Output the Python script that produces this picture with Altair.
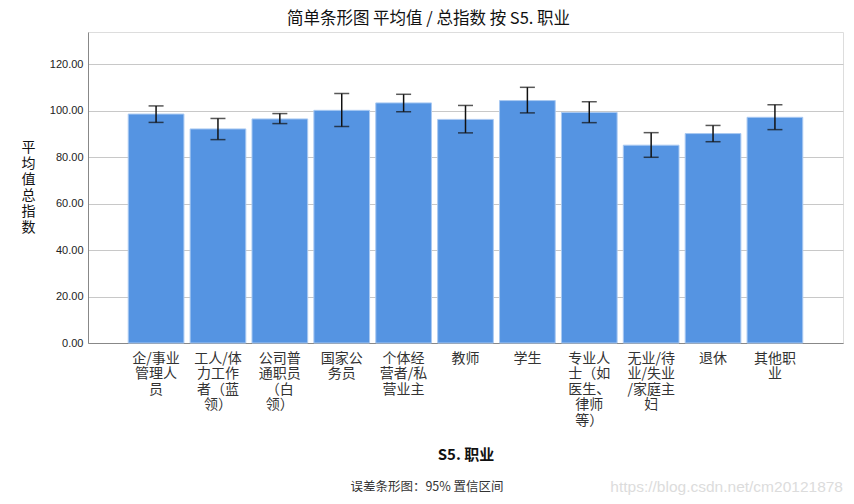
import altair as alt
import pandas as pd

categories = [
    "企/事业\n管理人\n员",
    "工人/体\n力工作\n者（蓝\n领）",
    "公司普\n通职员\n（白\n领）",
    "国家公\n务员",
    "个体经\n营者/私\n营业主",
    "教师",
    "学生",
    "专业人\n士（如\n医生、\n律师\n等）",
    "无业/待\n业/失业\n/家庭主\n妇",
    "退休",
    "其他职\n业",
]
means = [98.5, 92.1, 96.4, 100.1, 103.3, 96.2, 104.3, 99.2, 85.1, 90.1, 97.1]
ci_low = [94.9, 87.5, 94.4, 93.1, 99.5, 90.4, 99.0, 94.8, 79.9, 86.6, 91.8]
ci_high = [102.0, 96.6, 98.7, 107.3, 107.0, 102.2, 110.0, 103.8, 90.5, 93.6, 102.5]
y_ticks = [0, 20, 40, 60, 80, 100, 120]

df = pd.DataFrame({"cat": categories, "mean": means, "lo": ci_low, "hi": ci_high})

FONT = "Noto Sans CJK SC"

xenc = alt.X(
    "cat:N",
    sort=categories,
    scale=alt.Scale(paddingInner=0.1, paddingOuter=0.65),
    axis=alt.Axis(
        title="S5. 职业",
        titleFont=FONT,
        titleFontSize=15,
        titleFontWeight="bold",
        titleColor="#111",
        titlePadding=20,
        labelExpr="split(datum.label, '\\n')",
        labelAngle=0,
        labelFont=FONT,
        labelFontSize=14,
        labelLineHeight=15.5,
        labelColor="#333",
        labelPadding=8,
        labelBaseline="top",
        ticks=False,
        domainColor="#888",
        grid=False,
    ),
)

yscale = alt.Scale(domain=[0, 133.8], nice=False, zero=True)

bars = alt.Chart(df).mark_bar(color="#5594E2", stroke="#A9C9F2", strokeWidth=1).encode(
    x=xenc,
    y=alt.Y(
        "mean:Q",
        scale=yscale,
        axis=alt.Axis(
            values=y_ticks,
            format=".2f",
            title=["平", "均", "值", "总", "指", "数"],
            titleAngle=0,
            titleFont=FONT,
            titleFontSize=14,
            titleFontWeight="normal",
            titleLineHeight=16,
            titleColor="#111",
            titleAlign="center",
            titleBaseline="top",
            titleX=-60,
            titleY=108,
            labelFont="Liberation Sans",
            labelFontSize=11,
            labelColor="#222",
            labelPadding=5,
            ticks=False,
            domainColor="#888",
            gridColor="#c8c8c8",
            gridWidth=1,
        ),
    ),
)

err = alt.Chart(df).mark_rule(color="#111", strokeWidth=1.5).encode(
    x=alt.X("cat:N", sort=categories),
    y=alt.Y("lo:Q", scale=yscale),
    y2="hi:Q",
)
cap_lo = alt.Chart(df).mark_tick(color="#111", size=15, thickness=1.5).encode(
    x=alt.X("cat:N", sort=categories), y=alt.Y("lo:Q", scale=yscale)
)
cap_hi = alt.Chart(df).mark_tick(color="#111", size=15, thickness=1.5).encode(
    x=alt.X("cat:N", sort=categories), y=alt.Y("hi:Q", scale=yscale)
)

footer_df = pd.DataFrame({"t": ["误差条形图：95% 置信区间"]})
footer = alt.Chart(footer_df).mark_text(
    font=FONT, fontSize=12.5, color="#333", align="center", baseline="middle"
).encode(text="t:N", x=alt.value(339), y=alt.value(455))

wm_df = pd.DataFrame({"t": ["https://blog.csdn.net/cm20121878"]})
watermark = alt.Chart(wm_df).mark_text(
    font="Liberation Sans", fontSize=15.5, color="#dcdcdc", align="right", baseline="middle"
).encode(text="t:N", x=alt.value(755), y=alt.value(455))

chart = (
    alt.layer(bars, err, cap_lo, cap_hi, footer, watermark)
    .properties(
        width=755,
        height=311,
        autosize=alt.AutoSizeParams(type="none"),
        padding={"left": 88, "top": 32, "right": 11, "bottom": 161},
        title=alt.TitleParams(
            "简单条形图 平均值 / 总指数 按 S5. 职业",
            font=FONT,
            fontSize=16.5,
            fontWeight="normal",
            color="#111",
            anchor="middle",
            frame="group",
            dx=-37,
            offset=5,
        ),
    )
    .configure_view(stroke="transparent", strokeWidth=0, strokeOpacity=0)
    .configure(background="white")
)

chart.save("out.html", embed_options={"renderer": "svg", "actions": False})
